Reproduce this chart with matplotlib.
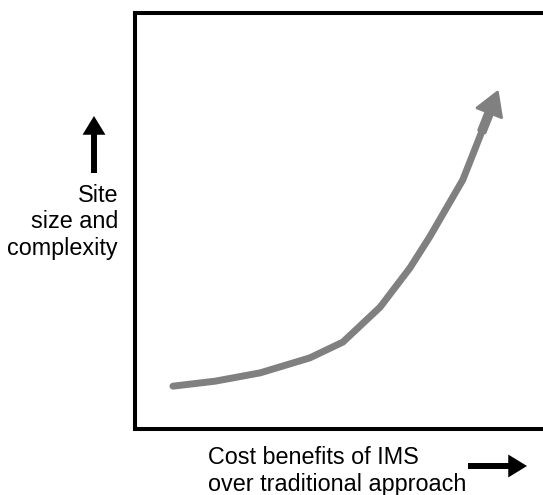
import matplotlib.pyplot as plt

plt.rcParams["font.family"] = ["Liberation Sans", "DejaVu Sans"]

# curve (arbitrary 0-100 units)
cost_benefit = [9.3, 19.5, 30.4, 42.4, 50.4, 59.4, 66.6, 71.4, 79.4, 84.0]
site_size = [10.3, 11.5, 13.5, 17.1, 20.9, 29.3, 38.7, 46.2, 59.9, 71.5]
arrow_tip = (87.9, 81.3)

x_label = "Cost benefits of IMS\nover traditional approach"
y_label = "Site\nsize and\ncomplexity"

curve_color = "#808080"

fig = plt.figure(figsize=(5.43, 4.95), dpi=100)
ax = fig.add_axes([0.2477, 0.1333, 0.7615, 0.8404])
ax.set_xlim(0, 100)
ax.set_ylim(0, 100)
ax.set_xticks([])
ax.set_yticks([])
for side in ["left", "top", "bottom"]:
    ax.spines[side].set_linewidth(2.9)
    ax.spines[side].set_color("black")
ax.spines["right"].set_visible(False)

# grey curve + arrow head
ax.plot(cost_benefit, site_size, color=curve_color, lw=5, solid_capstyle="round",
        solid_joinstyle="round")
ax.annotate("", xy=arrow_tip, xytext=(cost_benefit[-1], site_size[-1]),
            arrowprops=dict(arrowstyle="simple,head_length=1.6,head_width=1.9,tail_width=0.5",
                            mutation_scale=10, color=curve_color, lw=2,
                            joinstyle="round", shrinkA=0, shrinkB=1))

# axis labels
fig.text(118 / 543, 1 - 222 / 495, y_label, ha="right", va="center",
         multialignment="right", fontsize=16.8, linespacing=1.22)
fig.text(208 / 543, 1 - 471 / 495, x_label, ha="left", va="center",
         fontsize=16.8, linespacing=1.22)

# black direction arrows
black = dict(arrowstyle="simple,head_length=1.35,head_width=1.65,tail_width=0.43",
             mutation_scale=10, color="black", lw=0, shrinkA=0, shrinkB=0)
fig.add_artist(plt.matplotlib.patches.FancyArrowPatch(
    (94 / 543, 1 - 173 / 495), (94 / 543, 1 - 116 / 495),
    transform=fig.transFigure, **black))
fig.add_artist(plt.matplotlib.patches.FancyArrowPatch(
    (468 / 543, 1 - 466 / 495), (527 / 543, 1 - 466 / 495),
    transform=fig.transFigure, **black))

fig.savefig("out.png", dpi=100)
